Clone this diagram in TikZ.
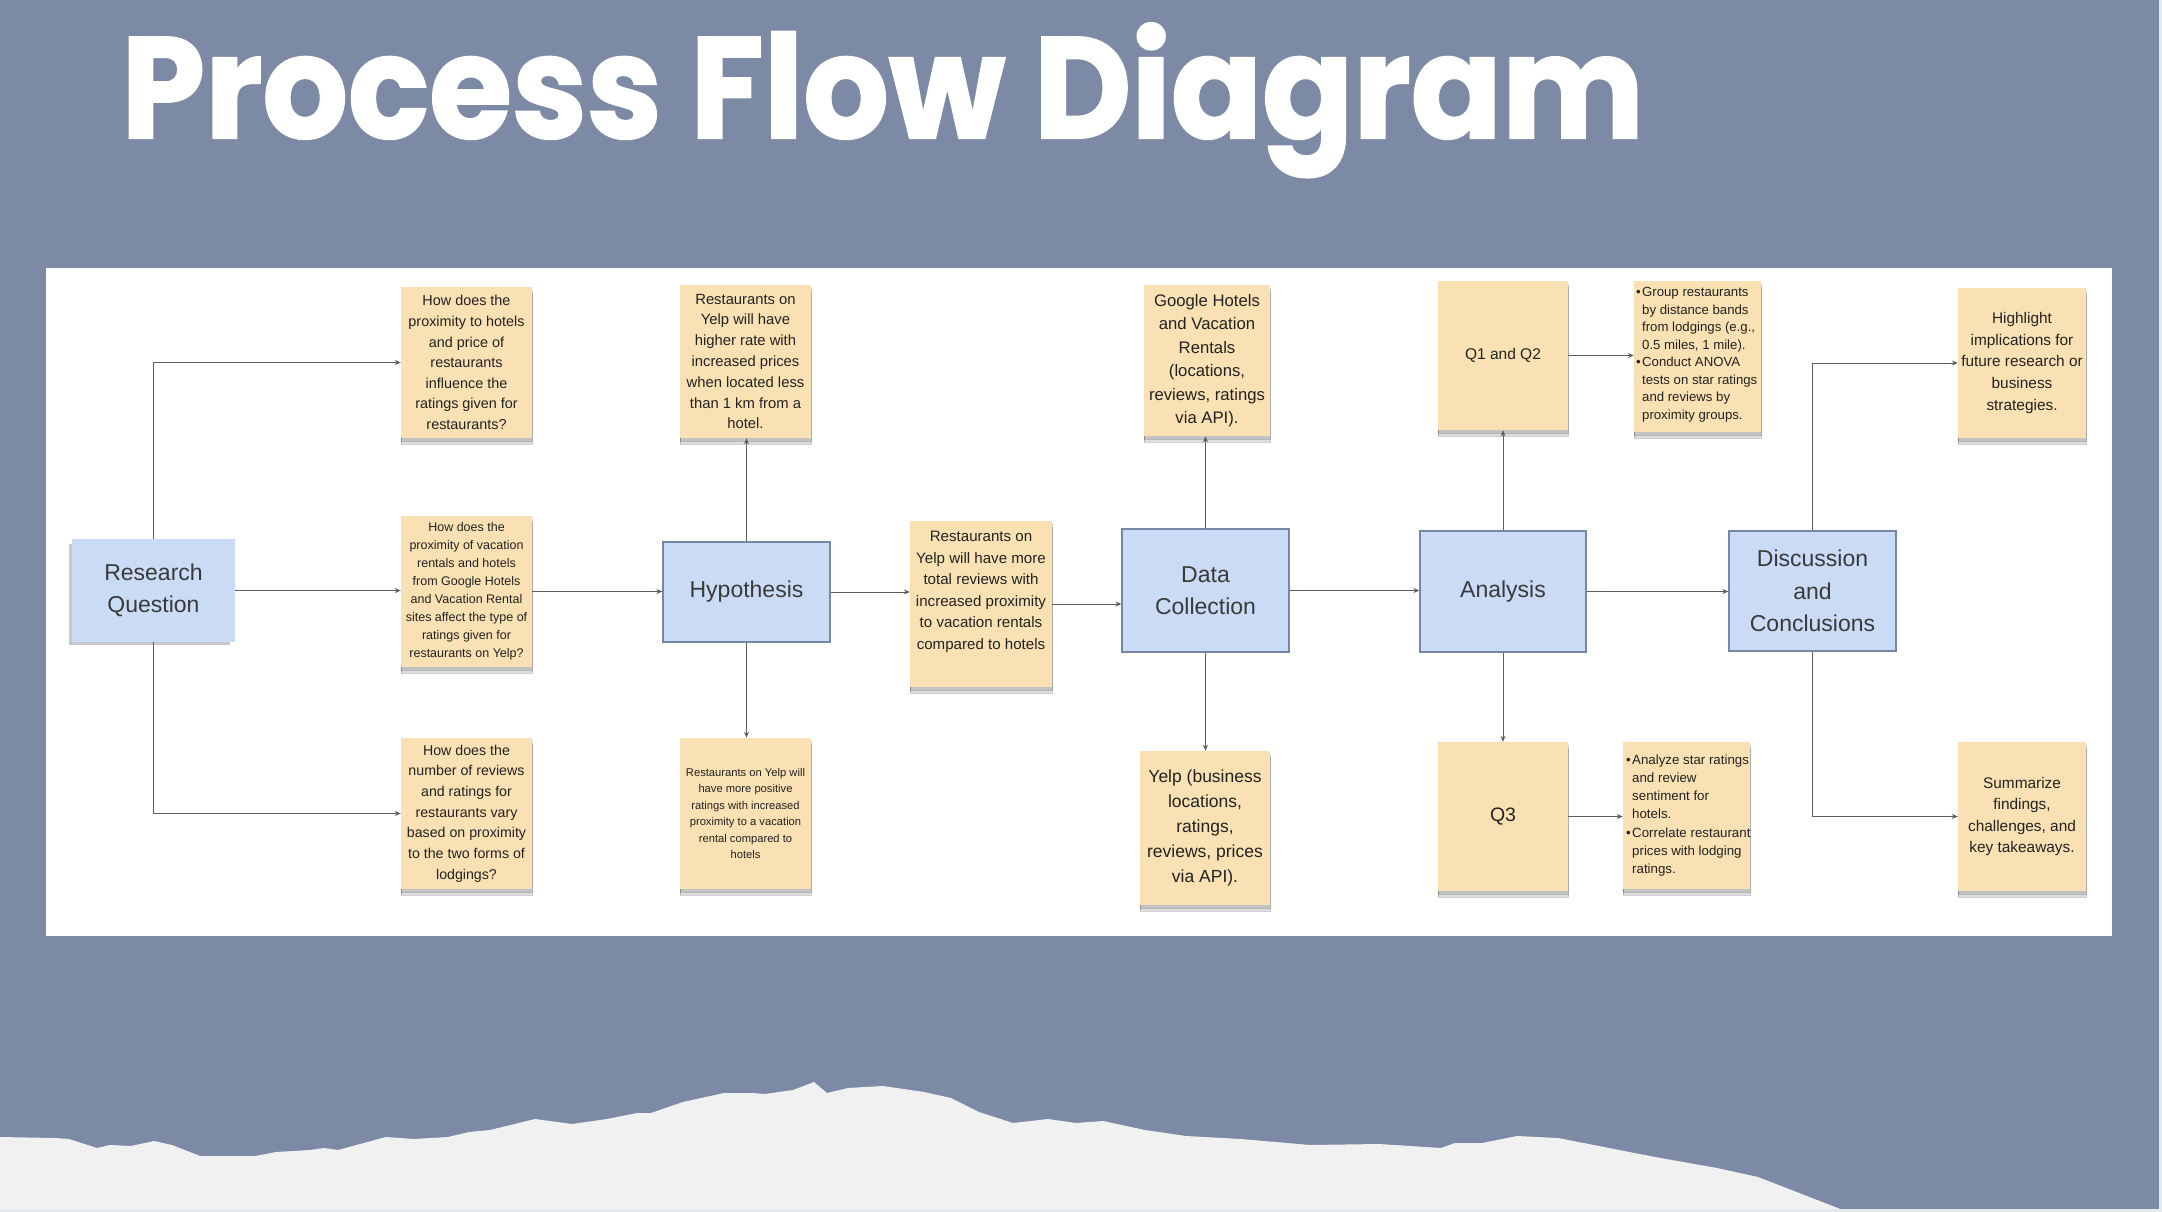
\documentclass[tikz,border=0pt]{standalone}
\usepackage{fontspec}
\setmainfont{Liberation Sans}
\newfontfamily\titlefont{Poppins}[BoldFeatures={FakeBold=1.5}]
\usetikzlibrary{shadows,arrows.meta}
\definecolor{bgslate}{HTML}{7D8AA6}
\definecolor{boxblue}{HTML}{CADBF5}
\definecolor{boxedge}{HTML}{7688A6}
\definecolor{boxtext}{HTML}{3A3A3A}
\definecolor{notefill}{HTML}{FAE1B3}
\definecolor{notetext}{HTML}{222222}
\definecolor{linegray}{HTML}{5E5E5E}
\definecolor{snow}{HTML}{F1F1F1}
\newcommand{\fs}[2]{\fontsize{#1}{#2}\selectfont}
\newcommand{\bl}{\makebox[0.45em][l]{•}}
\newcommand{\ind}{\hspace*{0.45em}}
\begin{document}
\begin{tikzpicture}[x=1pt,y=-1pt,
  bluebox/.style={rectangle, fill=boxblue, draw=boxedge, line width=1.3pt, text=boxtext, align=center, inner sep=0pt, font=\fs{23}{32.5}},
  note/.style={rectangle, fill=notefill, inner sep=0pt, align=center, text=notetext,
    double copy shadow={shadow xshift=0pt, shadow yshift=-3pt, opacity=0.18, fill=black!70}},
  conn/.style={draw=linegray, line width=0.95pt, -{Stealth[length=6pt,width=5pt]}}
]
\useasboundingbox (0,0) rectangle (2162,1212);
\fill[bgslate] (0,0) rectangle (2162,1212);
\fill[white] (45.5,267.5) rectangle (2112,936);
% snowy ridge
\fill[snow] (0,1137) -- (55,1138) -- (69,1139) -- (97,1148) -- (110,1145) -- (131,1146) -- (154,1141) -- (172,1145) -- (200,1156) -- (255,1156) -- (276,1152) -- (310,1150) -- (324,1148) -- (338,1150) -- (386,1137) -- (414,1139) -- (448,1137) -- (469,1132) -- (490,1130) -- (535,1119) -- (572,1124) -- (607,1119) -- (637,1113) -- (651,1113) -- (683,1102) -- (724,1093) -- (752,1093) -- (765,1094) -- (793,1090) -- (814,1082) -- (827,1093) -- (848,1088) -- (883,1086) -- (924,1092) -- (951,1098) -- (979,1112) -- (1013,1123) -- (1048,1119) -- (1076,1123) -- (1103,1121) -- (1145,1130) -- (1186,1136) -- (1241,1139) -- (1310,1145) -- (1379,1144) -- (1441,1148) -- (1455,1143) -- (1482,1143) -- (1517,1136) -- (1558,1138) -- (1655,1157) -- (1717,1168) -- (1758,1177) -- (1848,1212) -- (0,1212) -- cycle;
\fill[white!80!bgslate] (0,1209) rectangle (2162,1212);
\fill[white!80!bgslate] (2159,0) rectangle (2162,1212);
% title
\node[anchor=base west, inner sep=0pt, text=white] (title) at (121,138)
  {\resizebox{1523pt}{115pt}{\titlefont\bfseries\fs{160}{160}Process Flow Diagram}};
% main boxes
\node[bluebox, draw=boxblue, minimum width=161pt, minimum height=101pt,
  drop shadow={shadow xshift=-4pt, shadow yshift=-4pt, opacity=0.3, fill=black!70}] (rq) at (153.5,590.5) {Research\\Question};
\node[bluebox, minimum width=167pt, minimum height=100pt] (hyp) at (746.5,592) {Hypothesis};
\node[bluebox, minimum width=167pt, minimum height=123pt] (dc) at (1205.5,590.5) {Data\\Collection};
\node[bluebox, minimum width=166pt, minimum height=121pt] (an) at (1503,591.5) {Analysis};
\node[bluebox, minimum width=167pt, minimum height=120pt] (dis) at (1812.5,591) {Discussion\\and\\Conclusions};
% notes: research questions
\node[note, minimum width=131pt, minimum height=151pt, font=\fs{14.4}{20.6}] (q1) at (466.5,362.5)
  {How does the\\proximity to hotels\\and price of\\restaurants\\influence the\\ratings given for\\restaurants?};
\node[note, minimum width=131pt, minimum height=151pt, font=\fs{12.5}{18}] (q2) at (466.5,591.5)
  {How does the\\proximity of vacation\\rentals and hotels\\from Google Hotels\\and Vacation Rental\\sites affect the type of\\ratings given for\\restaurants on Yelp?};
\node[note, minimum width=131pt, minimum height=151pt, font=\fs{14.2}{20.7}] (q3) at (466.5,813.5)
  {How does the\\number of reviews\\and ratings for\\restaurants vary\\based on proximity\\to the two forms of\\lodgings?};
% hypotheses
\node[note, minimum width=131pt, minimum height=153pt, font=\fs{14.8}{20.8}] (h1) at (745.5,361.5)
  {Restaurants on\\Yelp will have\\higher rate with\\increased prices\\when located less\\than 1 km from a\\hotel.};
\node[note, minimum width=131pt, minimum height=151pt, font=\fs{11.2}{16.5}] (h2) at (745.5,813.5)
  {Restaurants on Yelp will\\have more positive\\ratings with increased\\proximity to a vacation\\rental compared to\\hotels};
\node[note, minimum width=142pt, minimum height=166pt] (h3) at (981,604) {};
\node[inner sep=0pt, align=center, text=notetext, font=\fs{15.1}{21.5}] (h3t) at (981,592)
  {Restaurants on\\Yelp will have more\\total reviews with\\increased proximity\\to vacation rentals\\compared to hotels};
% data collection
\node[note, minimum width=126pt, minimum height=151pt, font=\fs{16.7}{23.5}] (dc1) at (1207,360.5)
  {Google Hotels\\and Vacation\\Rentals\\(locations,\\reviews, ratings\\via API).};
\node[note, minimum width=130pt, minimum height=154pt, font=\fs{17.5}{24.8}] (dc2) at (1205,828)
  {Yelp (business\\locations,\\ratings,\\reviews, prices\\via API).};
% analysis
\node[note, minimum width=130pt, minimum height=149pt, font=\fs{15.5}{20}] (a1) at (1503,355.5) {Q1 and Q2};
\node[note, minimum width=130pt, minimum height=149pt, font=\fs{19.5}{24}] (a2) at (1503,816.5) {Q3};
\node[note, minimum width=127pt, minimum height=151pt] (a1r) at (1697.5,356.5) {};
\node[anchor=west, inner sep=0pt, align=left, text=notetext, font=\fs{13.2}{17.5}] (a1rt) at (1636,355)
  {\bl Group restaurants\\\ind by distance bands\\\ind from lodgings (e.g.,\\\ind 0.5 miles, 1 mile).\\\bl Conduct ANOVA\\\ind tests on star ratings\\\ind and reviews by\\\ind proximity groups.};
\node[note, minimum width=127pt, minimum height=147pt] (a2r) at (1686.5,815.5) {};
\node[anchor=west, inner sep=0pt, align=left, text=notetext, font=\fs{13.3}{18.2}] (a2rt) at (1626,815.5)
  {\bl Analyze star ratings\\\ind and review\\\ind sentiment for\\\ind hotels.\\\bl Correlate restaurant\\\ind prices with lodging\\\ind ratings.};
% discussion
\node[note, minimum width=128pt, minimum height=150pt, font=\fs{15.4}{21.7}] (d1) at (2022,363)
  {Highlight\\implications for\\future research or\\business\\strategies.};
\node[note, minimum width=128pt, minimum height=149pt, font=\fs{15.4}{21.6}] (d2) at (2022,816.5)
  {Summarize\\findings,\\challenges, and\\key takeaways.};
% connectors
\draw[conn] (rq.north) |- (q1.west);
\draw[conn] (rq.east) -- (rq.east -| q2.west);
\draw[conn] (rq.south) |- (q3.west);
\draw[conn] (q2.east) -- (q2.east -| hyp.west);
\draw[conn] (hyp.north) -- (hyp.north |- h1.south);
\draw[conn] (hyp.south) -- (hyp.south |- h2.north);
\draw[conn] (hyp.east) -- (hyp.east -| h3.west);
\draw[conn] (h3.east) -- (h3.east -| dc.west);
\draw[conn] (dc.north) -- (dc.north |- dc1.south);
\draw[conn] (dc.south) -- (dc.south |- dc2.north);
\draw[conn] (dc.east) -- (dc.east -| an.west);
\draw[conn] (an.north) -- (an.north |- a1.south);
\draw[conn] (an.south) -- (an.south |- a2.north);
\draw[conn] (a1.east) -- (a1.east -| a1r.west);
\draw[conn] (a2.east) -- (a2.east -| a2r.west);
\draw[conn] (an.east) -- (an.east -| dis.west);
\draw[conn] (dis.north) |- (d1.west);
\draw[conn] (dis.south) |- (d2.west);
\end{tikzpicture}
\end{document}
